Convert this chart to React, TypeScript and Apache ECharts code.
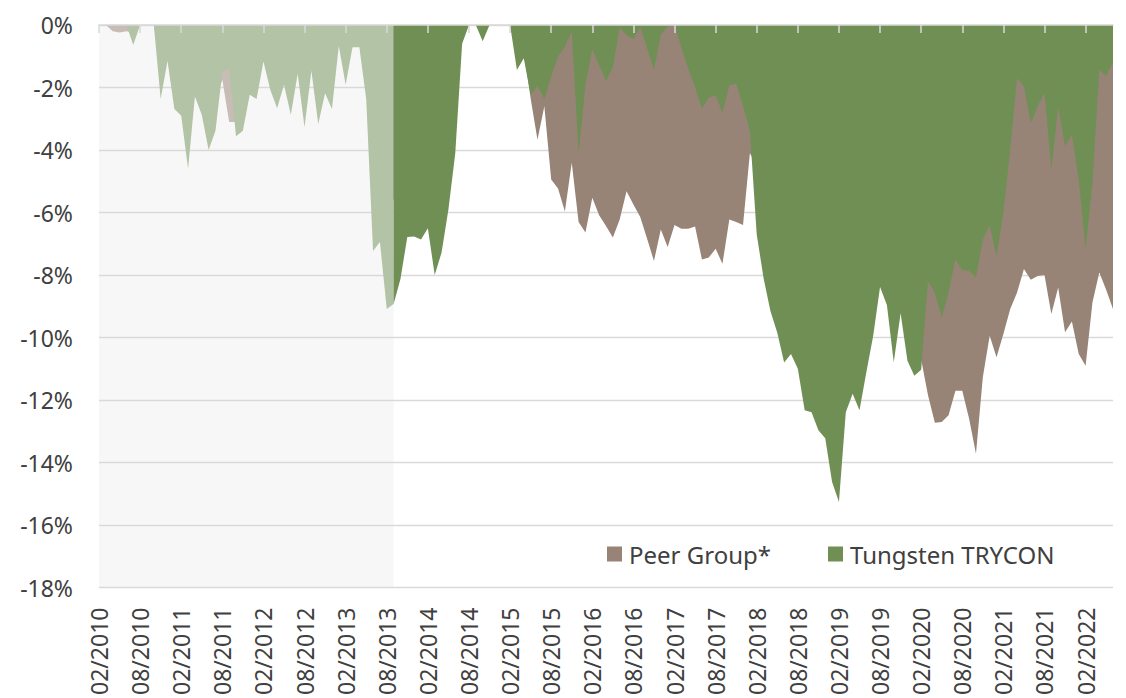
import React, { useEffect, useRef } from "react";
import * as echarts from "echarts";

// Monthly categories 02/2010 .. 06/2022
const months: string[] = [];
for (let k = 0; k < 149; k++) {
  const m = ((1 + k) % 12) + 1;
  const y = 2010 + Math.floor((1 + k) / 12);
  months.push(`${m < 10 ? "0" + m : m}/${y}`);
}

// Drawdown, % (Tungsten TRYCON)
const trycon: number[] = [
  0, 0, 0, 0, 0, -0.64, 0, 0, 0, -2.37,
  -1.15, -2.69, -2.9, -4.6, -2.29, -2.87, -4.0, -3.38, -1.5, -1.4,
  -3.56, -3.38, -2.23, -2.37, -1.17, -2.07, -2.66, -1.91, -2.87, -1.56,
  -3.27, -1.46, -3.17, -2.18, -2.69, -0.67, -1.91, -0.71, -0.71, -2.37,
  -7.23, -6.94, -9.09, -8.93, -8.13, -6.78, -6.77, -6.86, -6.5, -8.0,
  -7.28, -5.9, -4.1, -0.6, 0, 0, -0.52, 0, 0, 0,
  0, -1.44, -1.06, -2.23, -1.95, -2.37, -1.65, -1.01, -0.69, -0.21,
  -4.12, -1.91, -0.78, -1.28, -1.79, -1.36, -0.08, -0.32, -0.45, -0.07,
  -0.74, -1.44, -0.32, -0.05, 0, -0.72, -1.4, -2.0, -2.68, -2.32,
  -2.25, -2.81, -1.93, -1.88, -2.6, -3.38, -6.7, -8.1, -9.15, -9.85,
  -10.8, -10.53, -11.0, -12.33, -12.39, -12.97, -13.22, -14.62, -15.26, -12.39,
  -11.8, -12.33, -11.11, -9.94, -8.38, -8.96, -10.79, -9.22, -10.74, -11.22,
  -11.03, -8.19, -8.58, -9.36, -8.56, -7.5, -7.84, -7.87, -8.08, -6.86,
  -6.41, -7.39, -6.0, -3.99, -1.7, -1.97, -3.14, -2.6, -2.18, -4.63,
  -2.63, -3.88, -3.51, -4.94, -7.18, -5.05, -1.44, -1.63, -1.2,
];

// Drawdown, % (Peer Group*)
const peerGroup: number[] = [
  0, 0, -0.2, -0.24, -0.2, -0.25, 0, 0, 0, -1.5,
  -0.9, -1.8, -2.2, -3.0, -1.8, -2.2, -3.0, -2.4, -1.75, -3.1,
  -3.1, -2.8, -1.8, -2.0, -0.9, -1.6, -2.0, -1.5, -2.2, -1.2,
  -2.5, -1.1, -2.4, -1.7, -2.0, -0.5, -1.4, -0.5, -0.6, -1.8,
  -4.5, -4.8, -6.0, -5.6, -4.8, -4.2, -4.0, -4.3, -3.8, -4.5,
  -3.9, -3.0, -2.0, -0.4, 0, 0, -0.3, 0, 0, 0,
  0, -0.9, -0.8, -2.35, -3.67, -2.6, -4.94, -5.23, -5.97, -4.41,
  -6.3, -6.64, -5.53, -6.09, -6.43, -6.8, -6.22, -5.32, -5.74, -6.14,
  -6.84, -7.55, -6.54, -7.1, -6.4, -6.52, -6.52, -6.45, -7.5, -7.44,
  -7.16, -7.64, -6.22, -6.3, -6.4, -4.1, -4.5, -5.5, -6.0, -6.5,
  -7.2, -6.8, -7.0, -8.0, -8.3, -8.5, -8.8, -10.2, -11.0, -9.0,
  -8.6, -9.0, -8.0, -7.3, -6.5, -7.0, -8.0, -7.5, -8.8, -9.5,
  -10.7, -11.85, -12.73, -12.7, -12.49, -11.7, -11.7, -12.6, -13.72, -11.27,
  -9.94, -10.63, -9.89, -9.09, -8.56, -7.81, -8.15, -8.03, -8.0, -9.25,
  -8.4, -9.83, -9.49, -10.53, -10.9, -8.88, -7.92, -8.47, -9.09,
];

const legendNames = ["Peer Group*", "Tungsten TRYCON"];
const shadedFrom = "02/2010";
const shadedTo = "09/2013";

const FONT = "'Noto Sans', 'Open Sans', sans-serif";
const TEXT = "#404040";
const GRID = "#d9d9d9";
const GREEN = "#708f55";
const BROWN = "#978476";
const GREEN_FADED = "#b3c3a6";
const BROWN_FADED = "#c7bdb6";

export default function App() {
  const ref = useRef<HTMLDivElement>(null);
  useEffect(() => {
    if (!ref.current) return;
    const chart = echarts.init(ref.current, undefined, { renderer: "svg" });
    const splitIdx = months.indexOf(shadedTo);
    const early = (arr: number[]) => arr.map((v, i) => (i <= splitIdx ? v : null));
    const late = (arr: number[]) => arr.map((v, i) => (i >= splitIdx ? v : null));
    const area = (name: string, data: (number | null)[], color: string, extra: any = {}) => ({
      name,
      type: "line",
      xAxisIndex: 0,
      yAxisIndex: 0,
      data,
      symbol: "none",
      showSymbol: false,
      connectNulls: false,
      itemStyle: { color },
      lineStyle: { width: 0, opacity: 0 },
      areaStyle: { color, opacity: 1 },
      silent: true,
      ...extra,
    });
    chart.setOption({
      animation: false,
      textStyle: { fontFamily: FONT },
      grid: { left: 99, right: 13, top: 25, bottom: 108, containLabel: false },
      legend: {
        data: legendNames,
        left: 602,
        top: 537,
        icon: "rect",
        itemWidth: 15,
        itemHeight: 15,
        itemGap: 57,
        textStyle: { fontSize: 24, color: TEXT, fontFamily: FONT, padding: [0, 0, 0, 2] },
        selectedMode: false,
      },
      xAxis: [
        {
          type: "category",
          data: months,
          boundaryGap: false,
          position: "bottom",
          axisLine: { show: false },
          axisTick: { show: false },
          axisLabel: {
            interval: 5,
            rotate: 90,
            margin: 20,
            fontSize: 23,
            color: TEXT,
            fontFamily: FONT,
          },
          splitLine: { show: false },
        },
        {
          type: "category",
          data: months,
          boundaryGap: false,
          position: "top",
          z: 10,
          axisLine: { show: true, lineStyle: { color: GRID, width: 1.5 } },
          axisTick: { show: true, inside: true, length: 8, interval: 5, lineStyle: { color: GRID, width: 1.5 } },
          axisLabel: { show: false },
          splitLine: { show: false },
        },
      ],
      yAxis: {
        type: "value",
        min: -18,
        max: 0,
        interval: 2,
        z: 2,
        axisLine: { show: false },
        axisTick: { show: false },
        axisLabel: { formatter: "{value}%", fontSize: 23, color: TEXT, margin: 26, fontFamily: FONT },
        splitLine: { lineStyle: { color: GRID, width: 1.3 } },
      },
      series: [
        area("peerEarly", early(peerGroup), BROWN_FADED, {
          markArea: {
            silent: true,
            itemStyle: { color: "#f7f7f7" },
            data: [[{ xAxis: shadedFrom }, { xAxis: shadedTo }]],
          },
        }),
        area("tryconEarly", early(trycon), GREEN_FADED),
        area(legendNames[0], late(peerGroup), BROWN),
        area(legendNames[1], late(trycon), GREEN),
      ],
    });
    return () => chart.dispose();
  }, []);
  return (
    <div
      ref={ref}
      style={{ position: "fixed", left: 0, top: 0, width: 1126, height: 698, background: "#ffffff" }}
    />
  );
}
